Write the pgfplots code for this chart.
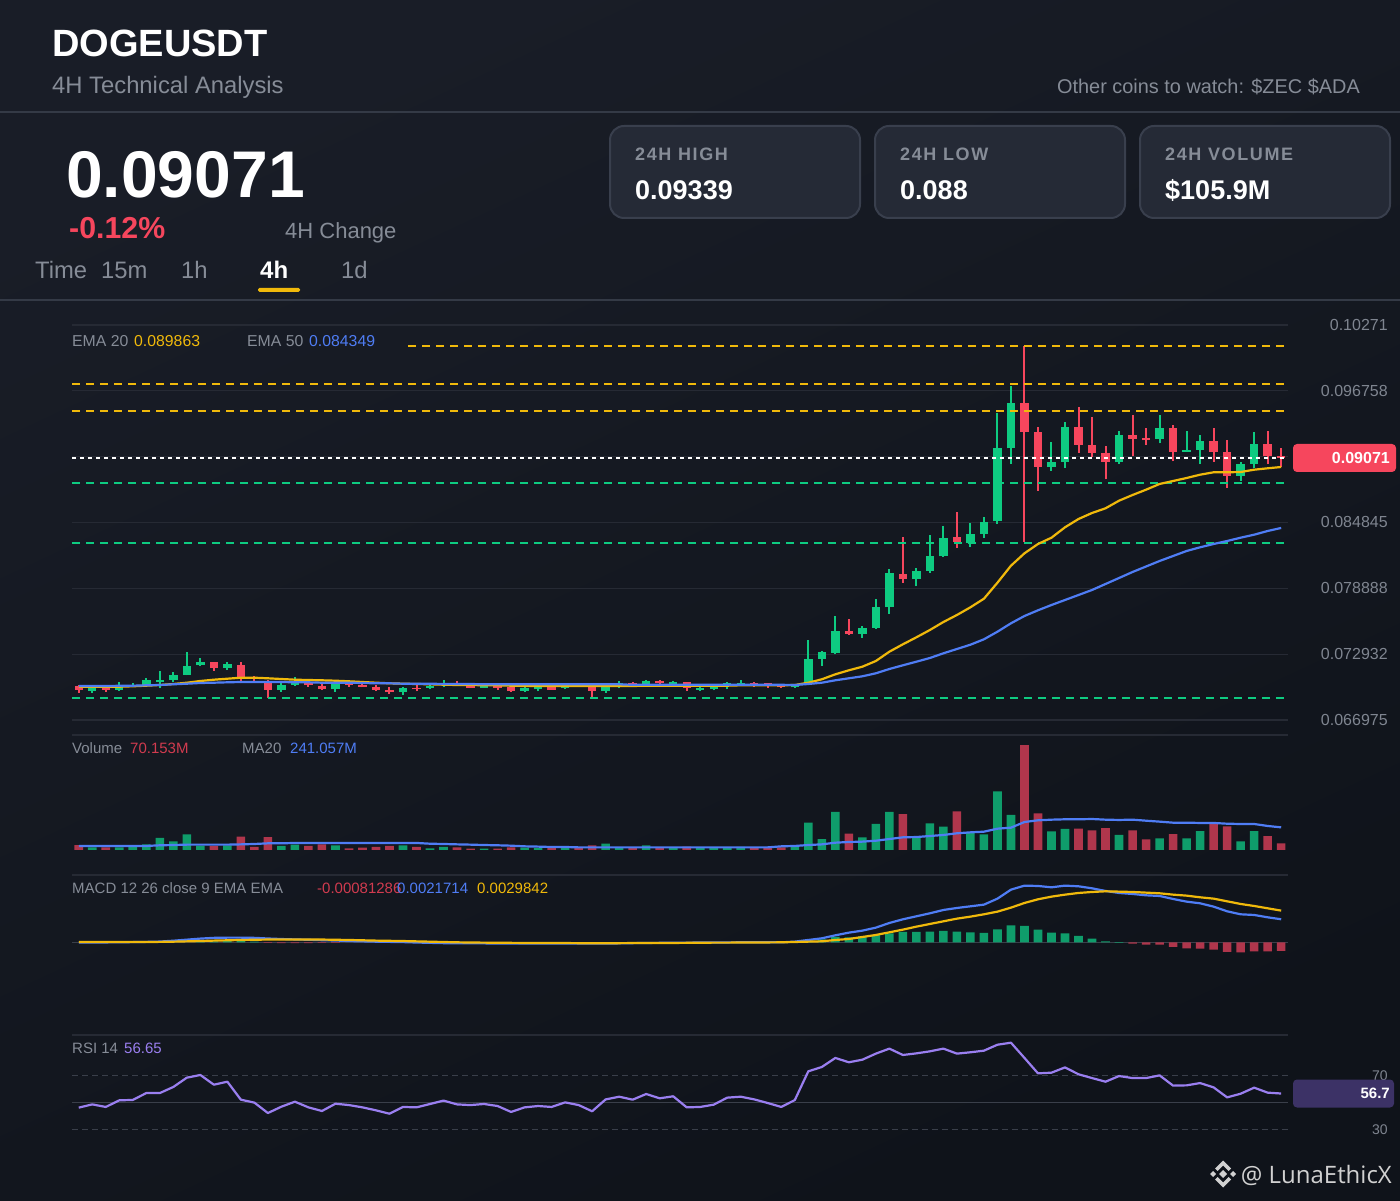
\documentclass[border=0pt]{standalone}
\usepackage{fontspec}
\usepackage{pgfplots}
\usepackage{pgfplotstable}
\pgfplotsset{compat=1.18}
\setmainfont{Liberation Sans}
\newfontfamily\lsfont[LetterSpace=9]{Liberation Sans}
\newfontfamily\wmfont{Open Sans}
\definecolor{bgA}{HTML}{191D27}
\definecolor{bgB}{HTML}{0F131A}
\definecolor{hrc}{HTML}{343A46}
\definecolor{gridc}{HTML}{262A34}
\definecolor{gridd}{HTML}{3A3F4A}
\definecolor{tickc}{HTML}{7F8590}
\definecolor{muted}{HTML}{868C97}
\definecolor{cardf}{HTML}{252A36}
\definecolor{cardb}{HTML}{393F4D}
\definecolor{cup}{HTML}{0ECB81}
\definecolor{cdn}{HTML}{F6465D}
\definecolor{vup}{HTML}{0F9D6B}
\definecolor{vdn}{HTML}{B0364C}
\definecolor{yel}{HTML}{F0B90B}
\definecolor{blu}{HTML}{4F7DF5}
\definecolor{pur}{HTML}{9A7FF0}
\definecolor{rsibox}{HTML}{3C3266}

% i open high low close volume(M)
\pgfplotstableread{
i o h l c v
1 0.069628 0.06999 0.069448 0.06993 28
3 0.069689 0.070382 0.069628 0.06999 28
4 0.06999 0.070292 0.06993 0.070081 36
5 0.070141 0.070744 0.070051 0.070563 60
6 0.070413 0.071378 0.0699 0.070594 128
7 0.070594 0.071287 0.070413 0.071016 92
8 0.071046 0.073157 0.071016 0.07189 167
9 0.07192 0.072554 0.07186 0.072222 46
11 0.071709 0.072192 0.071498 0.072041 50
15 0.069689 0.070352 0.069508 0.070171 43
16 0.070171 0.070835 0.070081 0.070443 57
19 0.069749 0.070322 0.069508 0.070292 50
24 0.069478 0.06999 0.069236 0.06987 50
26 0.0699 0.070292 0.069749 0.070051 18
27 0.070141 0.070594 0.06996 0.070292 32
30 0.0699 0.07014 0.06987 0.070111 14
33 0.069628 0.070051 0.069508 0.06987 25
34 0.069749 0.070111 0.069568 0.06993 21
36 0.06987 0.070081 0.069749 0.07002 28
39 0.069598 0.070292 0.069448 0.06993 67
40 0.06999 0.070503 0.06984 0.070292 28
42 0.070141 0.070594 0.070081 0.070503 50
44 0.070141 0.070533 0.070081 0.070382 28
46 0.069719 0.07002 0.069598 0.0699 28
47 0.069779 0.070081 0.069659 0.070051 25
48 0.070141 0.070382 0.069749 0.070292 25
49 0.070141 0.070594 0.070051 0.070352 32
53 0.06993 0.070201 0.06987 0.070141 36
54 0.070352 0.074212 0.070292 0.072493 291
55 0.072523 0.073217 0.07189 0.073096 117
56 0.073066 0.076383 0.072915 0.075026 405
58 0.074785 0.075479 0.074423 0.075298 135
59 0.075298 0.077921 0.075237 0.077167 277
60 0.077167 0.080636 0.076594 0.080243 405
62 0.079701 0.080696 0.079067 0.080455 138
63 0.080455 0.083681 0.080274 0.081812 284
64 0.081781 0.084526 0.081751 0.08347 249
66 0.082988 0.084797 0.082656 0.083802 185
67 0.083832 0.08534 0.08344 0.084887 167
68 0.084948 0.094749 0.084736 0.091552 625
69 0.091552 0.097221 0.090135 0.095653 373
72 0.089893 0.092125 0.089501 0.090316 199
73 0.090346 0.093904 0.089773 0.093512 224
77 0.090285 0.09309 0.090135 0.092758 160
80 0.092427 0.094568 0.092004 0.093422 124
82 0.09125 0.09315 0.09122 0.091401 124
83 0.091401 0.092728 0.090165 0.092215 202
86 0.089079 0.090316 0.088597 0.090104 92
87 0.090135 0.09303 0.089743 0.091944 202
}\tabUp

\pgfplotstableread{
i o h l c v
0 0.070051 0.070141 0.069417 0.069689 53
2 0.06996 0.07002 0.069508 0.069689 28
10 0.072222 0.072252 0.071438 0.071709 43
12 0.071981 0.072222 0.070292 0.070835 142
13 0.070805 0.070986 0.070443 0.070654 32
14 0.070533 0.070563 0.068935 0.069689 138
17 0.070292 0.070594 0.06996 0.070111 43
18 0.070081 0.070292 0.069689 0.069749 60
20 0.070352 0.070443 0.06999 0.070141 18
21 0.070171 0.070352 0.06993 0.06999 25
22 0.06996 0.070141 0.069598 0.069719 32
23 0.069689 0.06999 0.069357 0.069478 43
25 0.0699 0.070111 0.069568 0.069749 32
28 0.070292 0.070503 0.070051 0.070141 28
29 0.070141 0.070201 0.06987 0.0699 14
31 0.070111 0.07014 0.069719 0.0699 14
32 0.06999 0.07005 0.069508 0.069598 28
35 0.06993 0.070051 0.069689 0.069719 28
37 0.070051 0.070081 0.06996 0.06999 28
38 0.06993 0.06996 0.069025 0.069598 50
41 0.070292 0.070443 0.070051 0.070141 28
43 0.070503 0.070563 0.070201 0.070292 28
45 0.070382 0.070413 0.069598 0.06987 36
50 0.070352 0.070443 0.06996 0.070141 28
51 0.070292 0.070352 0.06987 0.070201 25
52 0.070051 0.070111 0.06987 0.06993 28
57 0.075026 0.076142 0.074695 0.074785 174
61 0.080213 0.083561 0.079399 0.079701 383
65 0.0835 0.085762 0.082566 0.083078 412
70 0.095653 0.10081 0.083078 0.09306 1118
71 0.09306 0.093452 0.087692 0.089893 391
74 0.093512 0.095322 0.09113 0.091884 227
75 0.091853 0.094357 0.090798 0.09113 209
76 0.0911 0.091763 0.088747 0.090316 234
78 0.092758 0.094568 0.090889 0.092427 209
79 0.092457 0.093392 0.091884 0.092276 114
81 0.093422 0.093663 0.090376 0.09125 170
84 0.092215 0.093392 0.090346 0.09125 284
85 0.09125 0.092306 0.087993 0.089079 252
88 0.091944 0.09312 0.090135 0.090828 149
89 0.090828 0.091582 0.089833 0.09071 70.153
}\tabDown

% i ema20 ema50 ma20 dif dea rsi
\pgfplotstableread{
i e a m d s r
0 0.069987 0.070051 43 -0.00003 0.00002 46.2
1 0.069987 0.070051 43 -0.00002 0.00002 48.6
2 0.069987 0.070051 43 -0.00001 0.00002 46.7
3 0.069987 0.070069 43 0 0.00002 51.6
4 0.070024 0.070078 43 0.00002 0.00002 51.9
5 0.070078 0.070114 43 0.00004 0.00003 57
6 0.070141 0.070141 50 0.00007 0.00004 57
7 0.070232 0.070204 53 0.00015 0.00006 61.5
8 0.070349 0.070259 57 0.00025 0.00009 68.4
9 0.070503 0.070322 57 0.00035 0.00012 70.4
10 0.070621 0.070349 57 0.00042 0.00016 63.2
11 0.070711 0.070385 57 0.00044 0.00019 65.4
12 0.070801 0.070412 60 0.00044 0.00022 52.1
13 0.070801 0.070412 64 0.00042 0.00024 49.9
14 0.070747 0.070412 71 0.00036 0.00026 42.2
15 0.070684 0.070412 71 0.00031 0.00027 46.9
16 0.070621 0.070385 75 0.00027 0.00027 50.6
17 0.070593 0.070385 75 0.00024 0.00027 46.4
18 0.070566 0.070349 75 0.0002 0.00026 43.7
19 0.07053 0.070349 75 0.00017 0.00024 49.1
20 0.070476 0.070349 75 0.00012 0.00022 48.1
21 0.070412 0.070322 75 0.00009 0.00019 46.4
22 0.070349 0.070295 75 0.00006 0.00016 44.2
23 0.070295 0.070295 75 0.00004 0.00014 41.7
24 0.070259 0.070259 75 0.00002 0.00012 46.7
25 0.070232 0.070259 75 -0.00002 0.00009 46.4
26 0.070204 0.070259 67 -0.00005 0.00006 48.9
27 0.070168 0.070232 64 -0.00008 0.00003 51.4
28 0.070141 0.070232 60 -0.0001 0 48.6
29 0.070141 0.070232 57 -0.0001 -0.00002 48.1
30 0.070114 0.070204 53 -0.0001 -0.00003 48.9
31 0.070114 0.070204 50 -0.00012 -0.00004 47.4
32 0.070078 0.070204 46 -0.00012 -0.00005 43
33 0.070051 0.070204 39 -0.00012 -0.00006 46.4
34 0.070051 0.070204 36 -0.00012 -0.00006 47.4
35 0.070051 0.070204 32 -0.00012 -0.00007 46.7
36 0.070051 0.070204 32 -0.00012 -0.00007 50.1
37 0.070051 0.070204 28 -0.00012 -0.00008 48.1
38 0.070051 0.070204 28 -0.00012 -0.00008 43.5
39 0.070051 0.070204 28 -0.00012 -0.00008 52.3
40 0.070051 0.070204 28 -0.0001 -0.00008 54.3
41 0.070051 0.070159 28 -0.00008 -0.00007 52.1
42 0.070078 0.070159 28 -0.00006 -0.00007 56.3
43 0.070078 0.070159 28 -0.00005 -0.00006 53.1
44 0.070078 0.070159 28 -0.00005 -0.00006 54.6
45 0.070078 0.070159 28 -0.00004 -0.00005 46.4
46 0.070078 0.070159 28 -0.00001 -0.00004 46.7
47 0.070078 0.070159 28 -0.00001 -0.00003 48.4
48 0.070078 0.070159 28 -0.00001 -0.00003 53.6
49 0.070114 0.070159 28 0 -0.00002 54.3
50 0.070114 0.070159 28 0 -0.00001 52.3
51 0.070114 0.070159 28 0 -0.00001 49.6
52 0.070114 0.070159 39 0 0 46.7
53 0.070141 0.070141 43 0.000063 0.000031 51.8
54 0.070349 0.070232 53 0.00022 0.000063 73.1
55 0.070657 0.070349 60 0.000377 0.000094 76.3
56 0.071109 0.070566 78 0.000659 0.00022 83
57 0.071471 0.070747 85 0.000911 0.000314 79.8
58 0.071797 0.070928 89 0.001099 0.000502 81.7
59 0.072312 0.0712 99 0.001382 0.000691 86.2
60 0.073154 0.071589 117 0.001821 0.000942 89.9
61 0.073823 0.071923 135 0.002167 0.001193 85.2
62 0.074456 0.072249 138 0.002449 0.001476 86.4
63 0.075117 0.072584 149 0.002732 0.001727 87.9
64 0.075841 0.073009 160 0.003046 0.001978 89.9
65 0.076474 0.073398 178 0.003234 0.002229 86.2
66 0.077171 0.073787 188 0.003391 0.002418 87.2
67 0.077949 0.074276 195 0.003548 0.002638 88.4
68 0.079396 0.074963 227 0.004113 0.002889 92.8
69 0.080934 0.075723 238 0.004961 0.003266 94.3
70 0.082056 0.076384 298 0.005338 0.003705 83
71 0.082897 0.076899 316 0.005307 0.004051 71.6
72 0.083467 0.077379 323 0.005181 0.004302 72.1
73 0.084408 0.077831 327 0.005338 0.00449 76
74 0.085159 0.078284 327 0.005275 0.004647 70.9
75 0.085702 0.078736 330 0.005087 0.004741 68.1
76 0.086127 0.079279 323 0.004836 0.004804 65.4
77 0.086815 0.079821 320 0.004647 0.004773 69.6
78 0.08733 0.080364 323 0.004553 0.004741 68.1
79 0.08781 0.080862 312 0.004427 0.004679 68.1
80 0.088326 0.081359 302 0.004365 0.004616 70.1
81 0.088597 0.081812 291 0.004082 0.00449 62.5
82 0.088868 0.082264 291 0.003831 0.004396 62.7
83 0.089167 0.082599 288 0.003674 0.004239 64.4
84 0.089384 0.082897 288 0.00336 0.004113 61.2
85 0.089384 0.083169 280 0.00292 0.003862 53.8
86 0.089411 0.083467 277 0.002638 0.003611 56.5
87 0.089619 0.083739 277 0.002575 0.003423 61
88 0.089746 0.084074 256 0.002355 0.003203 57.3
89 0.089863 0.084349 241.057 0.0021714 0.0029842 56.65
}\tabLines

\pgfplotstableread{
i v
9 0.00005
10 0.0001
11 0.00012
12 0.00012
13 0.00006
53 0.00003
54 0.00016
55 0.00028
56 0.000502
57 0.000471
58 0.000565
59 0.000691
60 0.000848
61 0.000973
62 0.000973
63 0.001005
64 0.001068
65 0.001005
66 0.000942
67 0.000879
68 0.001225
69 0.001601
70 0.001539
71 0.001193
72 0.000911
73 0.000848
74 0.000597
75 0.000345
76 0.000094
77 -0.00005
}\tabHistUp
\pgfplotstableread{
i v
14 -0.00006
15 -0.00008
16 -0.00008
17 -0.00007
18 -0.00006
19 -0.00005
78 -0.000126
79 -0.00022
80 -0.00022
81 -0.00044
82 -0.000565
83 -0.000597
84 -0.000691
85 -0.000911
86 -0.000942
87 -0.000848
88 -0.000848
89 -0.00081286
}\tabHistDown

\pgfplotsset{
  panel/.style={scale only axis,width=1216pt,xmin=-0.5,xmax=89.5,xtick=\empty,
    axis line style={draw=none},tick style={draw=none},major tick length=0pt,
    ymajorgrids,grid style={draw=gridc,line width=1.2pt},
    scaled y ticks=false,
    yticklabel pos=right,
    yticklabel style={anchor=east,xshift=100pt,inner sep=0pt,text=tickc,
      font=\fontsize{16}{18}\selectfont}},
  body/.style={draw=none,no markers,forget plot,
    error bars/.cd,y dir=plus,y explicit,error mark=none,
    error bar style={draw=#1,line width=8.4pt}},
  wick/.style={draw=none,no markers,forget plot,
    error bars/.cd,y dir=plus,y explicit,error mark=none,
    error bar style={draw=#1,line width=2pt}},
  lvl/.style={forget plot,mark=none,draw=#1,line width=2pt,dash pattern=on 8pt off 6pt},
  vbar/.style={ybar,bar width=8.6pt,bar shift=0pt,fill=#1,draw=none,forget plot},
  ln/.style={no markers,forget plot,draw=#1,line width=2.2pt,line join=round},
}
\newcommand{\txt}[5][base west]{\node[anchor=#1,inner sep=0pt,text=#3] at (#2) {\fontsize{#4}{#4}\selectfont #5};}

\begin{document}
\begin{tikzpicture}[x=1pt,y=1pt]
\useasboundingbox (0,0) rectangle (1400,1200);
\shade[top color=bgA,bottom color=bgB,shading angle=25] (0,0) rectangle (1400,1200);

% header
\txt{52,1143}{white}{38}{\bfseries DOGEUSDT}
\txt{52,1106}{muted}{23.8}{4H Technical Analysis}
\txt[base east]{1360,1106.5}{muted}{19.9}{Other coins to watch: \$ZEC \$ADA}
\fill[hrc] (0,1087) rectangle (1400,1089);
\fill[hrc] (0,899) rectangle (1400,901);
\txt{66,1002}{white}{66}{\bfseries 0.09071}
\txt{69,961}{cdn}{30.3}{\bfseries -0.12\%}
\txt{285,961}{muted}{22}{4H Change}
\txt{35,921}{muted}{23.8}{Time}
\txt{101,921}{muted}{23.8}{15m}
\txt{181,921}{muted}{23.8}{1h}
\txt{260,921}{white}{24}{\bfseries 4h}
\txt{341,921}{muted}{23.8}{1d}
\fill[yel,rounded corners=1.5pt] (258,908) rectangle (300,912);

% stat cards
\foreach \xa/\la/\va in {610/24H HIGH/0.09339,875/24H LOW/0.088,1140/24H VOLUME/\$105.9M}{
  \draw[fill=cardf,draw=cardb,line width=2pt,rounded corners=14pt] (\xa,982) rectangle ++(250,92);
  \node[anchor=base west,inner sep=0pt,text=muted] at (\xa+25,1039) {\fontsize{18}{18}\lsfont\bfseries \la};
  \node[anchor=base west,inner sep=0pt,text=white] at (\xa+25,1000) {\fontsize{27}{27}\selectfont\bfseries \va};
}

% price panel
\begin{axis}[panel,at={(72pt,480pt)},anchor=south west,height=395pt,
  ymin=0.066975,ymax=0.10271,
  ytick={0.066975,0.072932,0.078888,0.084845,0.090801,0.096758,0.10271},
  yticklabels={0.066975,0.072932,0.078888,0.084845,,0.096758,0.10271}]
\addplot[wick=cup] table[x=i,y=l,y error plus expr=\thisrow{h}-\thisrow{l}] {\tabUp};
\addplot[wick=cdn] table[x=i,y=l,y error plus expr=\thisrow{h}-\thisrow{l}] {\tabDown};
\addplot[body=cup] table[x=i,y=o,y error plus expr=\thisrow{c}-\thisrow{o}] {\tabUp};
\addplot[body=cdn] table[x=i,y=c,y error plus expr=\thisrow{o}-\thisrow{c}] {\tabDown};
\addplot[lvl=yel] coordinates {(24.37,0.10081)(89.2,0.10081)};
\addplot[lvl=yel] coordinates {(-0.5,0.09735)(89.2,0.09735)};
\addplot[lvl=yel] coordinates {(-0.5,0.09496)(89.2,0.09496)};
\addplot[lvl=cup] coordinates {(-0.5,0.08839)(89.2,0.08839)};
\addplot[lvl=cup] coordinates {(-0.5,0.08301)(89.2,0.08301)};
\addplot[lvl=cup] coordinates {(-0.5,0.06896)(89.2,0.06896)};
\addplot[forget plot,mark=none,draw=white,line width=2pt,dash pattern=on 4pt off 4pt] coordinates {(-0.5,0.09071)(89.2,0.09071)};
\addplot[ln=yel] table[x=i,y=e] {\tabLines};
\addplot[ln=blu] table[x=i,y=a] {\tabLines};
\end{axis}

% volume panel
\begin{axis}[panel,at={(72pt,350pt)},anchor=south west,height=115pt,
  ymin=0,ymax=1224.75,ytick={1224.75},yticklabels={}]
\addplot[vbar=vup] table[x=i,y=v] {\tabUp};
\addplot[vbar=vdn] table[x=i,y=v] {\tabDown};
\addplot[ln=blu] table[x=i,y=m] {\tabLines};
\end{axis}

% MACD panel
\begin{axis}[panel,at={(72pt,165pt)},anchor=south west,height=160pt,
  ymin=-0.00873,ymax=0.00634,ytick={0.00634},yticklabels={}]
\addplot[forget plot,mark=none,draw=gridd,line width=1.2pt] coordinates {(-0.5,0)(89.5,0)};
\addplot[vbar=vup] table[x=i,y=v] {\tabHistUp};
\addplot[vbar=vdn] table[x=i,y=v] {\tabHistDown};
\addplot[ln=blu] table[x=i,y=d] {\tabLines};
\addplot[ln=yel] table[x=i,y=s] {\tabLines};
\end{axis}

% RSI panel
\begin{axis}[panel,at={(72pt,30pt)},anchor=south west,height=135pt,
  ymin=0,ymax=100,ytick={30,70,100},yticklabels={30,70,},
  yticklabel style={font=\fontsize{14}{16}\selectfont}]
\addplot[forget plot,mark=none,draw=gridd,line width=1.2pt] coordinates {(-0.5,50)(89.5,50)};
\addplot[forget plot,mark=none,draw=bgB,line width=1.6pt] coordinates {(-0.5,70)(89.5,70)};
\addplot[forget plot,mark=none,draw=bgB,line width=1.6pt] coordinates {(-0.5,30)(89.5,30)};
\addplot[forget plot,mark=none,draw=gridd,line width=1.2pt,dash pattern=on 6pt off 4pt] coordinates {(-0.5,70)(89.5,70)};
\addplot[forget plot,mark=none,draw=gridd,line width=1.2pt,dash pattern=on 6pt off 4pt] coordinates {(-0.5,30)(89.5,30)};
\addplot[ln=pur] table[x=i,y=r] {\tabLines};
\end{axis}

% indicator captions
\txt{72,853.5}{muted}{15.8}{EMA 20}
\txt{134,853.5}{yel}{15.8}{0.089863}
\txt{247,853.5}{muted}{15.8}{EMA 50}
\txt{309,853.5}{blu}{15.8}{0.084349}
\txt{72,446.5}{muted}{15}{Volume}
\txt{130,446.5}{cdn!85!black}{15}{70.153M}
\txt{242,446.5}{muted}{15}{MA20}
\txt{290,446.5}{blu}{15}{241.057M}
\txt{72,306.5}{muted}{15}{MACD 12 26 close 9 EMA EMA}
\txt{317,306.5}{cdn!85!black}{15}{-0.00081286}
\txt{397,306.5}{blu}{15}{0.0021714}
\txt{477,306.5}{yel}{15}{0.0029842}
\txt{72,147}{muted}{15}{RSI 14}
\txt{124,147}{pur}{15}{56.65}

% last-value tags
\fill[cdn,rounded corners=4pt] (1293,728) rectangle (1396,756);
\txt[base east]{1390,736}{white}{16}{\bfseries 0.09071}
\fill[rsibox,rounded corners=4pt] (1293,92.5) rectangle (1394,120.5);
\txt[base east]{1390,102}{white}{15}{\bfseries 56.7}

% watermark
\begin{scope}[shift={(1223,26)},x=1pt,y=1pt]
\fill[white!82!black] (0,4) -- (4,0) -- (0,-4) -- (-4,0) -- cycle;
\fill[white!82!black] (-10,3) -- (-7,0) -- (-10,-3) -- (-13,0) -- cycle;
\fill[white!82!black] (10,3) -- (7,0) -- (10,-3) -- (13,0) -- cycle;
\fill[white!82!black] (0,13.5) -- (8,5.5) -- (5.5,3) -- (0,8.5) -- (-5.5,3) -- (-8,5.5) -- cycle;
\fill[white!82!black] (0,-13.5) -- (8,-5.5) -- (5.5,-3) -- (0,-8.5) -- (-5.5,-3) -- (-8,-5.5) -- cycle;
\end{scope}
\node[anchor=base east,inner sep=0pt,text=white!82!black] at (1392,17) {\fontsize{24}{24}\wmfont @ LunaEthicX};
\end{tikzpicture}
\end{document}
